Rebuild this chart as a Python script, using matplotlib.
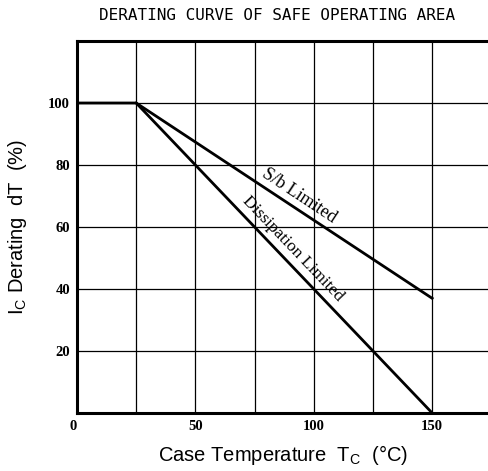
import numpy as np
import matplotlib
matplotlib.use("Agg")
import matplotlib.pyplot as plt

# === DATA ===
case_temp = [0, 25, 150]                 # degC
sb_limited = [100, 100, 37]              # % S/b limited
diss_temp = [25, 150]
diss_limited = [100, 0]                  # % dissipation limited
x_ticks = [0, 50, 100, 150]
y_ticks = [20, 40, 60, 80, 100]
x_grid = [25, 50, 75, 100, 125, 150]

# === FIGURE ===
fig = plt.figure(figsize=(4.89, 4.71), dpi=100)
ax = fig.add_axes([77 / 489, 1 - 413 / 471, 1 - 77 / 489, (413 - 41) / 471])
ax.set_xlim(0, 174)
ax.set_ylim(0, 120)

for xv in x_grid:
    ax.axvline(xv, color="black", lw=0.9, zorder=1)
for yv in y_ticks:
    ax.axhline(yv, color="black", lw=0.9, zorder=1)

ax.plot(case_temp, sb_limited, color="black", lw=2.0, zorder=3)
ax.plot(diss_temp, diss_limited, color="black", lw=2.0, zorder=3)

for side in ["left", "bottom", "top"]:
    ax.spines[side].set_linewidth(2.2)
ax.spines["right"].set_visible(False)

ax.set_xticks(x_ticks)
ax.set_yticks(y_ticks)
ax.tick_params(length=0, pad=5)
tick_font = dict(family="Liberation Serif", weight="bold", size=10.5)
ax.set_xticklabels([str(v) for v in x_ticks], fontdict=tick_font)
ax.set_yticklabels([str(v) for v in y_ticks], fontdict=tick_font)
ax.get_xticklabels()[0].set_horizontalalignment("right")

plt.rcParams["mathtext.fontset"] = "custom"
plt.rcParams["mathtext.rm"] = "Liberation Sans"
ax.set_xlabel(r"Case Temperature  T$_\mathregular{C}$  (°C)",
              family="Liberation Sans", size=14.5, labelpad=7)
ax.set_ylabel(r"I$_\mathregular{C}$ Derating  dT  (%)",
              family="Liberation Sans", size=14.5, labelpad=14)

fig.text(0.567, 1 - 15 / 471, "DERATING CURVE OF SAFE OPERATING AREA",
         family="DejaVu Sans Mono", size=11.5, ha="center", va="center")


def line_angle(xs, ys):
    p = ax.transData.transform(np.column_stack([xs, ys]))
    d = p[-1] - p[0]
    return np.degrees(np.arctan2(d[1], d[0]))


fig.canvas.draw()
ax.text(94, 70, "S/b Limited", family="Liberation Serif", size=13,
        rotation=line_angle(case_temp[1:], sb_limited[1:]),
        ha="center", va="center", rotation_mode="anchor", zorder=4)
ax.text(91, 53, "Dissipation Limited", family="Liberation Serif", size=12.5,
        rotation=line_angle(diss_temp, diss_limited),
        ha="center", va="center", rotation_mode="anchor", zorder=4)

fig.savefig("out.png", dpi=100)
